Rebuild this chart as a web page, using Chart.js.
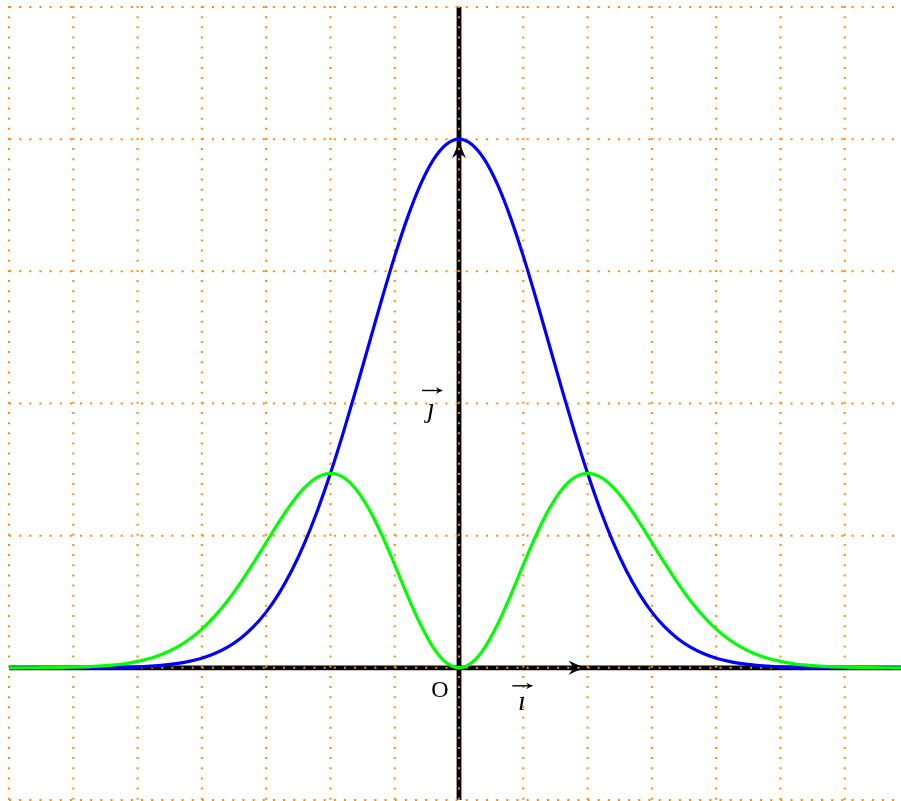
<!DOCTYPE html>
<html>
<head>
<meta charset="utf-8">
<title>Gaussian curves</title>
<script src="https://cdn.jsdelivr.net/npm/chart.js@4"></script>
<style>
  html, body { margin: 0; padding: 0; background: #fff; overflow: hidden; }
  #wrap { position: relative; width: 918px; height: 801px; }
</style>
</head>
<body>
<div id="wrap"><canvas id="chart"></canvas></div>
<script>
// sample points
const xs = [
  -3.5, -3.4, -3.3, -3.2, -3.1, -3.0, -2.9, -2.8, -2.7, -2.6,
  -2.5, -2.4, -2.3, -2.2, -2.1, -2.0, -1.9, -1.8, -1.7, -1.6,
  -1.5, -1.4, -1.3, -1.2, -1.1, -1.0, -0.9, -0.8, -0.7, -0.6,
  -0.5, -0.4, -0.3, -0.2, -0.1, 0.0, 0.1, 0.2, 0.3, 0.4,
  0.5, 0.6, 0.7, 0.8, 0.9, 1.0, 1.1, 1.2, 1.3, 1.4,
  1.5, 1.6, 1.7, 1.8, 1.9, 2.0, 2.1, 2.2, 2.3, 2.4,
  2.5, 2.6, 2.7, 2.8, 2.9, 3.0, 3.1, 3.2, 3.3, 3.4, 3.5
];
// blue bell curve
const blueValues = [
  0, 0, 0, 0, 0, 0.0001, 0.0002, 0.0004, 0.0007, 0.0012,
  0.0019, 0.0032, 0.0050, 0.0079, 0.0122, 0.0183, 0.0271, 0.0392, 0.0556, 0.0773,
  0.1054, 0.1409, 0.1845, 0.2369, 0.2982, 0.3679, 0.4449, 0.5273, 0.6126, 0.6977,
  0.7788, 0.8521, 0.9139, 0.9608, 0.9900, 1.0000, 0.9900, 0.9608, 0.9139, 0.8521,
  0.7788, 0.6977, 0.6126, 0.5273, 0.4449, 0.3679, 0.2982, 0.2369, 0.1845, 0.1409,
  0.1054, 0.0773, 0.0556, 0.0392, 0.0271, 0.0183, 0.0122, 0.0079, 0.0050, 0.0032,
  0.0019, 0.0012, 0.0007, 0.0004, 0.0002, 0.0001, 0, 0, 0, 0, 0
];
// green two-hump curve
const greenValues = [
  0, 0.0001, 0.0002, 0.0004, 0.0006, 0.0011, 0.0019, 0.0031, 0.0050, 0.0078,
  0.0121, 0.0181, 0.0267, 0.0383, 0.0536, 0.0733, 0.0977, 0.1269, 0.1606, 0.1979,
  0.2371, 0.2761, 0.3118, 0.3412, 0.3608, 0.3679, 0.3603, 0.3375, 0.3002, 0.2512,
  0.1947, 0.1363, 0.0823, 0.0384, 0.0099, 0, 0.0099, 0.0384, 0.0823, 0.1363,
  0.1947, 0.2512, 0.3002, 0.3375, 0.3603, 0.3679, 0.3608, 0.3412, 0.3118, 0.2761,
  0.2371, 0.1979, 0.1606, 0.1269, 0.0977, 0.0733, 0.0536, 0.0383, 0.0267, 0.0181,
  0.0121, 0.0078, 0.0050, 0.0031, 0.0019, 0.0011, 0.0006, 0.0004, 0.0002, 0.0001, 0
];
const xTicks = [-3.5, -3, -2.5, -2, -1.5, -1, -0.5, 0, 0.5, 1, 1.5, 2, 2.5, 3, 3.5];
const yTicks = [-0.25, 0, 0.25, 0.5, 0.75, 1, 1.25];

function arrowHead(ctx, tx, ty, angle, len, half) {
  ctx.save();
  ctx.translate(tx, ty);
  ctx.rotate(angle);
  ctx.beginPath();
  ctx.moveTo(0, 0);
  ctx.quadraticCurveTo(-len * 0.55, -half * 0.35, -len, -half);
  ctx.lineTo(-len * 0.72, 0);
  ctx.lineTo(-len, half);
  ctx.quadraticCurveTo(-len * 0.55, half * 0.35, 0, 0);
  ctx.closePath();
  ctx.fill();
  ctx.restore();
}

function smallArrow(ctx, x1, x2, yy) {
  ctx.save();
  ctx.lineWidth = 1.4;
  ctx.beginPath();
  ctx.moveTo(x1, yy);
  ctx.lineTo(x2 - 2, yy);
  ctx.stroke();
  arrowHead(ctx, x2, yy, 0, 7, 3.4);
  ctx.restore();
}

// axes, unit vectors and dotted grid under the curves, labels on top
const frame = {
  id: 'frame',
  beforeDraw(chart) {
    const { ctx, chartArea: a, scales: { x, y } } = chart;
    const x0 = x.getPixelForValue(0), y0 = y.getPixelForValue(0);
    ctx.save();
    ctx.strokeStyle = '#000';
    ctx.fillStyle = '#000';
    ctx.lineWidth = 4.8;
    ctx.beginPath();
    ctx.moveTo(a.left, y0); ctx.lineTo(a.right, y0);
    ctx.moveTo(x0, a.top); ctx.lineTo(x0, a.bottom);
    ctx.stroke();
    arrowHead(ctx, x.getPixelForValue(1), y0, 0, 19, 7);
    arrowHead(ctx, x0, y.getPixelForValue(1), -Math.PI / 2, 19, 7);

    ctx.strokeStyle = '#ff8c00';
    ctx.lineWidth = 2;
    ctx.setLineDash([2, 8.15]);
    xTicks.forEach(v => {
      const px = x.getPixelForValue(v);
      ctx.beginPath(); ctx.moveTo(px, a.top - 1); ctx.lineTo(px, a.bottom + 2); ctx.stroke();
    });
    yTicks.forEach(v => {
      const py = y.getPixelForValue(v);
      ctx.beginPath(); ctx.moveTo(a.left, py); ctx.lineTo(a.right, py); ctx.stroke();
    });
    ctx.restore();
  },
  afterDraw(chart) {
    const { ctx, scales: { x, y } } = chart;
    const x0 = x.getPixelForValue(0), y0 = y.getPixelForValue(0);
    const xi = x.getPixelForValue(0.5), yj = y.getPixelForValue(0.5);
    ctx.save();
    ctx.fillStyle = '#000';
    ctx.strokeStyle = '#000';
    ctx.textAlign = 'center';
    ctx.textBaseline = 'alphabetic';
    ctx.font = '24px "Liberation Serif", "DejaVu Serif", serif';
    ctx.fillText('O', x0 - 19, y0 + 29);
    ctx.font = 'italic 28px "Liberation Serif", "DejaVu Serif", serif';
    ctx.fillText('\u0131', xi - 1.5, y0 + 42);
    smallArrow(ctx, xi - 11, xi + 10, y0 + 18);
    ctx.fillText('\u0237', x0 - 28, yj + 13);
    smallArrow(ctx, x0 - 37, x0 - 16, yj - 13);
    ctx.restore();
  }
};

const lineStyle = {
  fill: false,
  pointRadius: 0,
  borderWidth: 3.2,
  cubicInterpolationMode: 'monotone'
};

new Chart(document.getElementById('chart'), {
  type: 'line',
  data: {
    datasets: [
      { ...lineStyle, label: 'green', borderColor: '#00ff00',
        data: xs.map((v, i) => ({ x: v, y: greenValues[i] })) },
      { ...lineStyle, label: 'blue', borderColor: '#0000ff',
        data: xs.map((v, i) => ({ x: v, y: blueValues[i] })) }
    ]
  },
  options: {
    responsive: true,
    maintainAspectRatio: false,
    animation: false,
    layout: { padding: { left: 9, right: 9, top: 7, bottom: 1 } },
    plugins: { legend: { display: false }, tooltip: { enabled: false } },
    scales: {
      x: { type: 'linear', min: -3.5, max: 3.5, display: false },
      y: { type: 'linear', min: -0.25, max: 1.25, display: false }
    }
  },
  plugins: [frame]
});
</script>
</body>
</html>
